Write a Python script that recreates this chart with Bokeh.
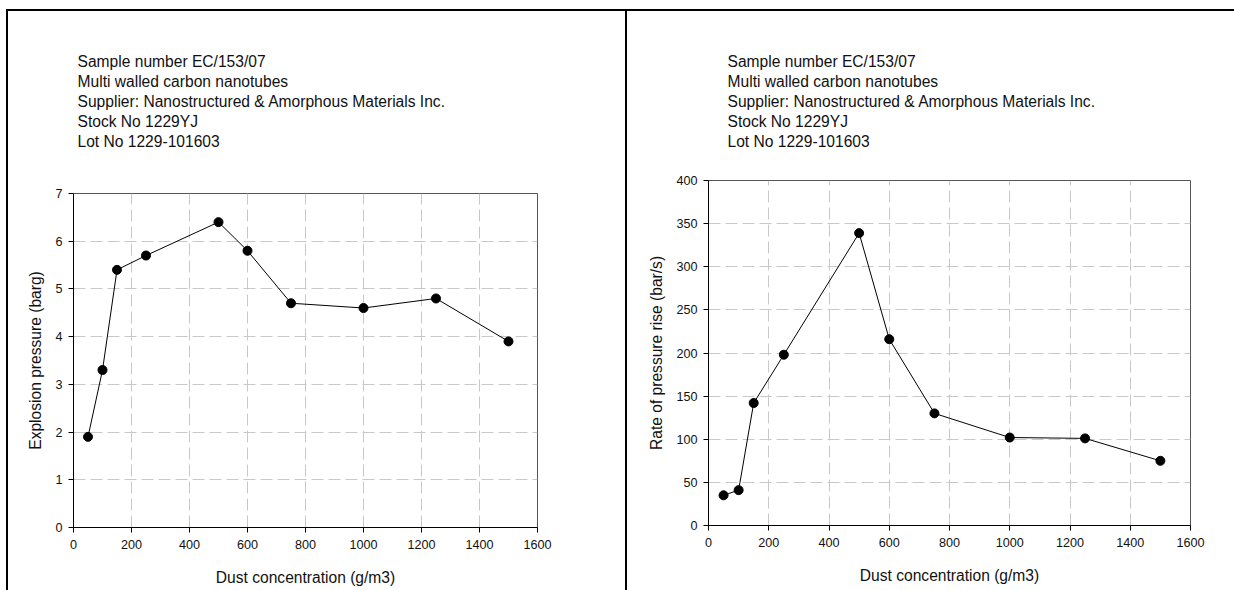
from bokeh.plotting import figure
from bokeh.models import Range1d, FixedTicker, Title
from bokeh.embed import file_html
from bokeh.resources import INLINE

# Dust explosion test results, sample EC/153/07
concentration = [50, 100, 150, 250, 500, 600, 750, 1000, 1250, 1500]
explosion_pressure = [1.9, 3.3, 5.4, 5.7, 6.4, 5.8, 4.7, 4.6, 4.8, 3.9]
pressure_rise_rate = [35, 41, 142, 198, 339, 216, 130, 102, 101, 75]

x_ticks = [0, 200, 400, 600, 800, 1000, 1200, 1400, 1600]
pressure_ticks = [0, 1, 2, 3, 4, 5, 6, 7]
rate_ticks = [0, 50, 100, 150, 200, 250, 300, 350, 400]

sample_info = [
    "Sample number EC/153/07",
    "Multi walled carbon nanotubes",
    "Supplier: Nanostructured & Amorphous Materials Inc.",
    "Stock No 1229YJ",
    "Lot No 1229-101603",
]

x_title = "Dust concentration (g/m3)"
left_title = "Explosion pressure (barg)"
right_title = "Rate of pressure rise (bar/s)"

FONT = "Liberation Sans"
INK = "#111111"


def info_line(text, offset, standoff=1):
    return Title(
        text=text, align="left", offset=offset, standoff=standoff,
        text_font=FONT, text_font_size="15.6px", text_font_style="normal",
        text_color=INK, text_line_height=1.0,
    )


def panel(y_values, y_ticks, y_label, frame_w, frame_h, left, top, bottom, right,
          text_offset, text_gap, styles):
    p = figure(
        frame_width=frame_w, frame_height=frame_h,
        min_border_left=left, min_border_top=top,
        min_border_bottom=bottom, min_border_right=right,
        x_range=Range1d(0, 1600), y_range=Range1d(0, y_ticks[-1]),
        output_backend="svg", toolbar_location=None, tools="",
        background_fill_color="white", border_fill_color="white",
        styles=styles,
    )
    p.outline_line_color = "#555555"
    p.outline_line_width = 1

    for ax in (p.xaxis[0], p.yaxis[0]):
        ax.axis_line_color = "black"
        ax.axis_line_width = 1
        ax.major_tick_line_color = "black"
        ax.major_tick_out = 5
        ax.major_tick_in = 0
        ax.minor_tick_line_color = None
        ax.major_label_text_font = FONT
        ax.major_label_text_font_size = "12.6px"
        ax.major_label_text_color = INK
        ax.axis_label_text_font = FONT
        ax.axis_label_text_font_size = "15.6px"
        ax.axis_label_text_font_style = "normal"
        ax.axis_label_text_color = INK

    p.xaxis.ticker = FixedTicker(ticks=x_ticks)
    p.yaxis.ticker = FixedTicker(ticks=y_ticks)
    p.xaxis.axis_label = x_title
    p.yaxis.axis_label = y_label
    p.xaxis.major_label_standoff = 7
    p.yaxis.major_label_standoff = 6
    p.xaxis.axis_label_standoff = 17
    p.yaxis.axis_label_standoff = 8

    p.grid.grid_line_color = "#c8c8c8"
    p.grid.grid_line_width = 1
    p.grid.grid_line_dash = "12 5"

    p.line(concentration, y_values, line_color="black", line_width=1)
    p.scatter(concentration, y_values, size=9, fill_color="black", line_color="black")

    # sample description block: a blank gap next to the frame, then the
    # lines stacked outward (last line nearest the frame)
    p.add_layout(info_line(" ", text_offset, standoff=text_gap), "above")
    for txt in reversed(sample_info):
        p.add_layout(info_line(txt, text_offset), "above")
    return p


p1 = panel(explosion_pressure, pressure_ticks, left_title,
           464, 334, 65, 182, 63, 88, 4, 24,
           {"position": "absolute", "left": "6px", "top": "9px",
            "border-left": "2px solid black", "border-top": "2px solid black",
            "border-right": "2px solid black"})
p2 = panel(pressure_rise_rate, rate_ticks, right_title,
           482, 345, 81, 169, 65, 44, 19, 11,
           {"position": "absolute", "left": "627px", "top": "9px",
            "border-top": "2px solid black"})

open("out.html", "w").write(file_html([p1, p2], INLINE))
